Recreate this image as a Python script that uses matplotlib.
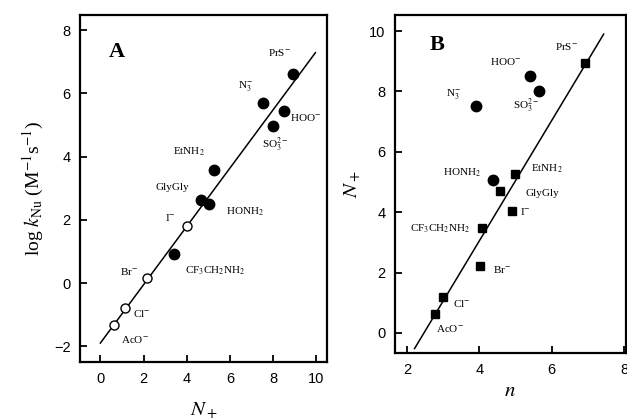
import matplotlib.pyplot as plt
import numpy as np

plt.rcParams['font.family'] = 'Liberation Serif'
plt.rcParams['mathtext.fontset'] = 'stix'

# nucleophile labels (same order in both panels)
label_tex = ['AcO$^{-}$', 'Cl$^{-}$', 'Br$^{-}$', 'I$^{-}$',
             'CF$_3$CH$_2$NH$_2$', 'GlyGly', 'HONH$_2$', 'EtNH$_2$',
             'N$_3^{-}$', 'SO$_3^{2-}$', 'HOO$^{-}$', 'PrS$^{-}$']

# panel A: N+ vs log k
a_nplus = [0.62, 1.16, 2.18, 4.01, 3.41, 4.64, 5.03, 5.26, 7.51, 7.98, 8.49, 8.9]
a_logk = [-1.33, -0.79, 0.15, 1.80, 0.91, 2.63, 2.49, 3.58, 5.70, 4.96, 5.43, 6.63]
a_open = [True, True, True, True, False, False, False, False, False, False, False, False]
a_lab_x = [1.62, 1.93, 1.34, 3.24, 5.32, 3.32, 6.67, 4.09, 6.71, 8.1, 9.49, 8.3]
a_lab_y = [-1.79, -0.97, 0.35, 2.07, 0.40, 3.03, 2.26, 4.16, 6.25, 4.38, 5.23, 7.31]
a_fit_x = [0.0, 9.95]
a_fit_y = [-1.9, 7.29]

# panel B: n vs N+
b_n = [2.77, 2.99, 4.02, 4.90, 4.07, 4.58, 4.38, 4.99, 3.90, 5.64, 5.40, 6.92]
b_nplus = [0.63, 1.18, 2.22, 4.03, 3.46, 4.70, 5.05, 5.27, 7.52, 8.01, 8.51, 8.93]
b_circle = [False, False, False, False, False, False, True, False, True, True, True, False]
b_lab_x = [3.19, 3.51, 4.63, 5.28, 2.93, 5.75, 3.51, 5.86, 3.30, 5.29, 4.74, 6.41]
b_lab_y = [0.14, 0.99, 2.10, 4.03, 3.46, 4.62, 5.31, 5.45, 7.93, 7.51, 8.98, 9.48]
b_fit_x = [2.21, 7.44]
b_fit_y = [-0.52, 9.90]

fig = plt.figure(figsize=(6.27, 4.19), dpi=100)
axA = fig.add_axes([0.128, 0.136, 0.394, 0.828])
axB = fig.add_axes([0.630, 0.158, 0.368, 0.806])

def style(ax):
    for s in ax.spines.values():
        s.set_linewidth(1.6)
    ax.tick_params(direction='in', length=5, width=1.3, top=False, right=False,
                   labelsize=10.5, pad=7)
    for t in ax.get_xticklabels() + ax.get_yticklabels():
        t.set_fontfamily('Liberation Sans')

# A
axA.plot(a_fit_x, a_fit_y, color='black', lw=1.1)
for x, y, op in zip(a_nplus, a_logk, a_open):
    if op:
        axA.plot(x, y, 'o', ms=6.5, mfc='white', mec='black', mew=1.0)
    else:
        axA.plot(x, y, 'o', ms=7.5, color='black')
for t, x, y in zip(label_tex, a_lab_x, a_lab_y):
    axA.text(x, y, t, fontsize=8, ha='center', va='center')
axA.text(0.77, 7.31, 'A', fontsize=16, fontweight='bold', ha='center', va='center')
axA.set_xlim(-0.93, 10.5)
axA.set_ylim(-2.5, 8.48)
axA.set_xticks([0, 2, 4, 6, 8, 10])
axA.set_yticks([-2, 0, 2, 4, 6, 8])
axA.set_xlabel(r'$N_+$', fontsize=15, labelpad=10)
axA.set_ylabel(r'log $k_{\rm Nu}$ (M$^{-1}$s$^{-1}$)', fontsize=14, labelpad=6)
style(axA)

# B
axB.plot(b_fit_x, b_fit_y, color='black', lw=1.1)
for x, y, c in zip(b_n, b_nplus, b_circle):
    if c:
        axB.plot(x, y, 'o', ms=7.5, color='black')
    else:
        axB.plot(x, y, 's', ms=6.3, color='black')
for t, x, y in zip(label_tex, b_lab_x, b_lab_y):
    axB.text(x, y, t, fontsize=8, ha='center', va='center')
axB.text(2.82, 9.54, 'B', fontsize=16, fontweight='bold', ha='center', va='center')
axB.set_xlim(1.67, 8.05)
axB.set_ylim(-0.66, 10.53)
axB.set_xticks([2, 4, 6, 8])
axB.set_yticks([0, 2, 4, 6, 8, 10])
axB.set_xlabel(r'$n$', fontsize=15, labelpad=4)
axB.set_ylabel(r'$N_+$', fontsize=15, labelpad=4)
style(axB)

fig.savefig('out.png', dpi=100)
